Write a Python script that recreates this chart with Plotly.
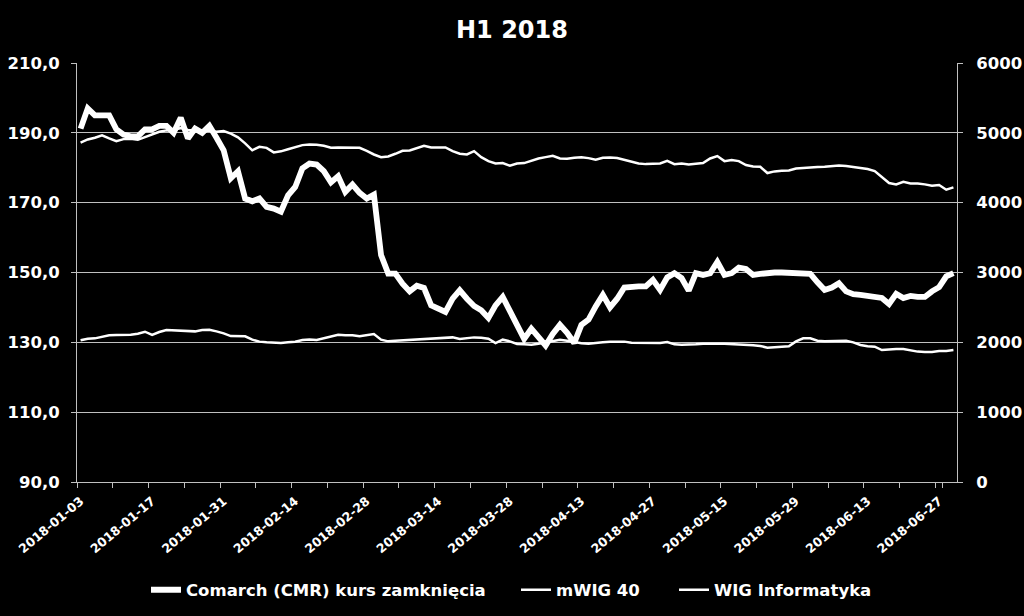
import pandas as pd
import plotly.graph_objects as go

# sesje GPW w H1 2018 (bez świąt)
holidays = ["2018-03-30", "2018-04-02", "2018-05-01", "2018-05-03", "2018-05-31"]
dates = [d.strftime("%Y-%m-%d") for d in pd.bdate_range("2018-01-03", "2018-06-29")
         if d.strftime("%Y-%m-%d") not in holidays]

# Comarch (CMR) kurs zamknięcia - lewa oś
cmr = [
    191.2, 197, 195, 195, 195, 191, 189.5, 189, 189, 191,
    191, 192, 192, 190, 194.3, 188.4, 191.2, 190, 192, 188.6,
    185, 177, 179, 171.2, 170.4, 171.2, 168.8, 168.3, 167.4, 172.1,
    174.5, 179.8, 181.2, 180.9, 179, 175.8, 177.6, 173.1, 175.2, 172.8,
    171.2, 172.3, 155, 149.7, 149.7, 146.8, 144.6, 146.2, 145.6, 140.6,
    139.5, 138.7, 142.5, 144.9, 142.5, 140.4, 139.2, 137, 140.6, 143,
    139, 135, 131, 133.9, 131.7, 129.1, 132.4, 135, 132.7, 129.8,
    135, 136.5, 140.3, 143.6, 140, 142.5, 145.7, 146, 146, 146,
    147.9, 145, 148.6, 149.8, 148.4, 144.8, 149.8, 149.3, 149.8, 153,
    149.3, 149.8, 151.4, 151, 149.3, 149.6, 150, 150, 150, 150,
    150, 150, 149.6, 147.2, 145, 145.7, 146.9, 144.6, 143.8, 143.6,
    143.4, 143.3, 142.7, 141, 143.9, 142.7, 143.3, 143, 143, 144.6,
    145.8, 148.9, 149.8,
]

# mWIG 40 - prawa oś
mwig40 = [
    4860, 4905, 4930, 4965, 4920, 4880, 4910, 4915, 4900, 4935,
    4975, 5015, 5035, 5040, 5070, 5040, 5030, 5035, 5030, 5015,
    5025, 4990, 4935, 4850, 4750, 4800, 4785, 4720, 4735, 4765,
    4800, 4824, 4833, 4829, 4814, 4786, 4790, 4786, 4786, 4786,
    4743, 4690, 4652, 4662, 4700, 4743, 4748, 4776, 4814, 4790,
    4790, 4790, 4738, 4700, 4690, 4738, 4652, 4595, 4562, 4567,
    4529, 4560, 4567, 4600, 4633, 4652, 4672, 4633, 4629, 4643,
    4652, 4638, 4614, 4643, 4648, 4638, 4614, 4581, 4562, 4552,
    4557, 4562, 4600, 4552, 4562, 4548, 4557, 4567, 4633, 4667,
    4595, 4610, 4595, 4538, 4519, 4514, 4424, 4448, 4457, 4462,
    4490, 4500, 4505, 4510, 4514, 4524, 4533, 4524, 4510, 4495,
    4481, 4452, 4372, 4281, 4262, 4300, 4276, 4276, 4262, 4243,
    4252, 4186, 4219,
]

# WIG Informatyka - prawa oś
wig_info = [
    2029, 2052, 2057, 2081, 2100, 2105, 2105, 2109, 2124, 2152,
    2105, 2148, 2176, 2171, 2167, 2162, 2157, 2176, 2181, 2157,
    2129, 2090, 2086, 2086, 2038, 2010, 2000, 1990, 1990, 2000,
    2010, 2033, 2040, 2035, 2060, 2088, 2108, 2100, 2100, 2086,
    2105, 2119, 2038, 2014, 2024, 2029, 2038, 2048, 2052, 2057,
    2057, 2062, 2071, 2048, 2057, 2071, 2067, 2052, 1990, 2038,
    2014, 1976, 1971, 1967, 1981, 2000, 2024, 2038, 2024, 2000,
    1986, 1981, 1986, 2000, 2010, 2012, 2010, 1993, 1993, 1998,
    1995, 1990, 2005, 1971, 1967, 1967, 1971, 1981, 1976, 1981,
    1981, 1976, 1976, 1967, 1957, 1948, 1924, 1929, 1933, 1943,
    2014, 2057, 2057, 2024, 2014, 2014, 2019, 2024, 2000, 1962,
    1943, 1938, 1890, 1900, 1905, 1905, 1881, 1867, 1862, 1862,
    1876, 1876, 1890,
]

FONT = "DejaVu Sans"
GRID = "#c0c0c0"
W, H = 1024, 616

tick_dates = dates[::5]
tick_text = [d if k % 2 == 0 else "" for k, d in enumerate(tick_dates)]

fig = go.Figure()

fig.add_trace(go.Scatter(
    x=dates, y=cmr, mode="lines", name="Comarch (CMR) kurs zamknięcia",
    line=dict(color="white", width=5.8), yaxis="y", legend="legend"
))
fig.add_trace(go.Scatter(
    x=dates, y=mwig40, mode="lines", name="mWIG 40",
    line=dict(color="white", width=2.5), yaxis="y2", legend="legend2"
))
fig.add_trace(go.Scatter(
    x=dates, y=wig_info, mode="lines", name="WIG Informatyka",
    line=dict(color="white", width=2.5), yaxis="y2", legend="legend3"
))


def leg(px):
    # jedna pozycja legendy w pikselach okna
    return dict(orientation="h", xref="container", x=px / W, xanchor="left",
                yref="container", y=1 - 590 / H, yanchor="middle",
                font=dict(size=16.5, family=FONT, color="white", weight="bold"),
                bgcolor="rgba(0,0,0,0)")


tickfont = dict(size=16.5, family=FONT, color="white", weight="bold")

fig.update_layout(
    width=W, height=H,
    paper_bgcolor="black", plot_bgcolor="black",
    font=dict(family=FONT, color="white", size=16, weight="bold"),
    separators=", ",
    margin=dict(l=77, r=67, t=63, b=134),
    title=dict(text="H1 2018", x=0.5, xanchor="center", y=1 - 30 / H, yanchor="middle",
               font=dict(size=24, family=FONT, color="white", weight="bold")),
    showlegend=True,
    legend=leg(146), legend2=leg(516), legend3=leg(674),
    xaxis=dict(
        type="category", range=[-0.5, len(dates) - 0.5], automargin=False,
        tickmode="array", tickvals=tick_dates, ticktext=tick_text,
        tickson="boundaries", tickangle=-40,
        ticks="outside", ticklen=5, tickcolor=GRID,
        showline=True, linecolor=GRID, linewidth=1,
        showgrid=False, zeroline=False, ticklabelstandoff=6,
        tickfont=dict(size=12.5, family=FONT, color="white", weight="bold"),
    ),
    yaxis=dict(
        range=[90, 210], dtick=20, tick0=90, tickformat=".1f", automargin=False,
        ticks="outside", ticklen=5, tickcolor=GRID,
        showline=True, linecolor=GRID, linewidth=1,
        showgrid=True, gridcolor=GRID, gridwidth=1, zeroline=False,
        ticklabelstandoff=8, tickfont=tickfont,
    ),
    yaxis2=dict(
        overlaying="y", side="right", automargin=False,
        range=[0, 6000], dtick=1000, tickformat="d",
        ticks="outside", ticklen=5, tickcolor=GRID,
        showline=True, linecolor=GRID, linewidth=1,
        showgrid=False, zeroline=False,
        ticklabelstandoff=10, tickfont=tickfont,
    ),
)

fig.write_html("out.html", config={"displayModeBar": False},
               post_script="document.body.style.margin='0';")
